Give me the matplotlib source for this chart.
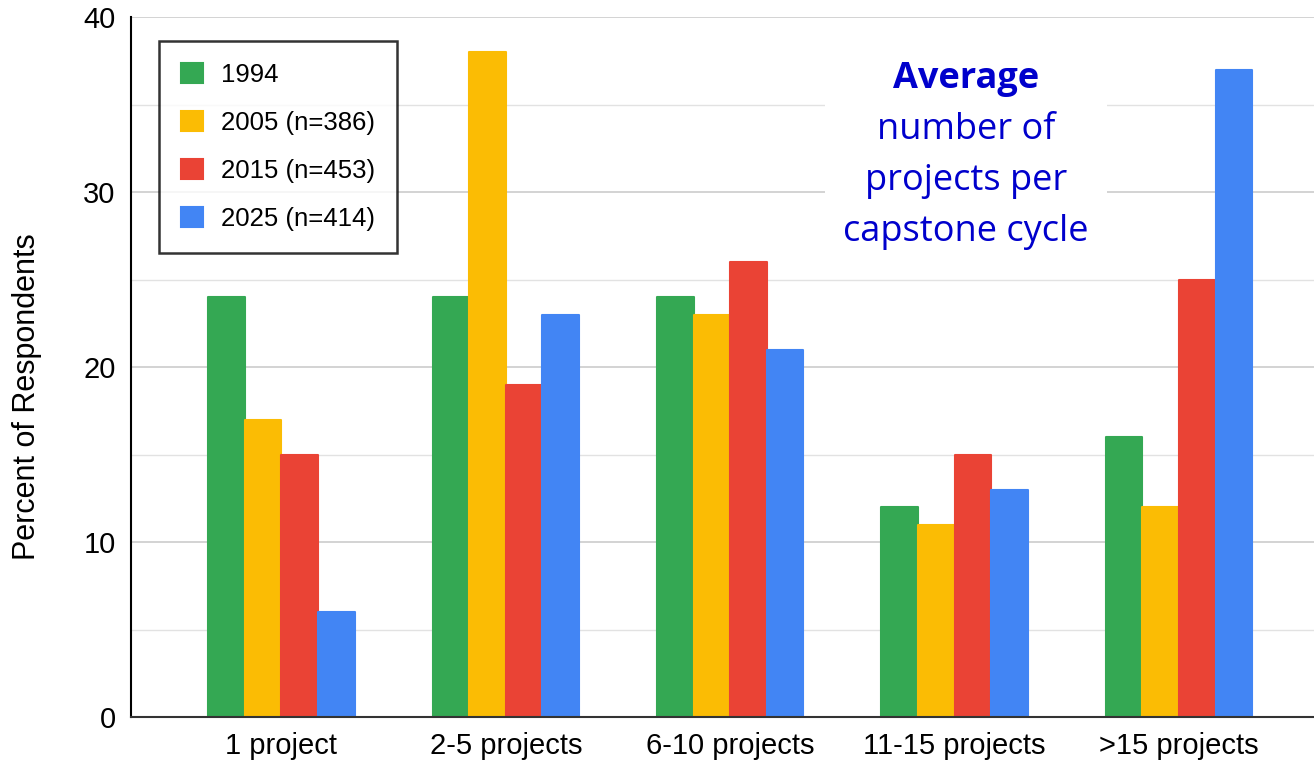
import matplotlib.pyplot as plt
import numpy as np

categories = ["1 project", "2-5 projects", "6-10 projects", "11-15 projects", ">15 projects"]
series_names = ["1994", "2005 (n=386)", "2015 (n=453)", "2025 (n=414)"]
v1994 = [24, 24, 24, 12, 16]
v2005 = [17, 38, 23, 11, 12]
v2015 = [15, 19, 26, 15, 25]
v2025 = [6, 23, 21, 13, 37]
colors = ["#34A853", "#FBBC04", "#EA4335", "#4285F4"]

plt.rcParams['font.family'] = ['Liberation Sans', 'DejaVu Sans']

fig = plt.figure(figsize=(13.14, 7.64), dpi=100)
ax = fig.add_axes([0.0997, 0.0615, 0.9, 0.9162])

x = np.arange(len(categories))
w = 0.163
for i, (vals, name) in enumerate(zip([v1994, v2005, v2015, v2025], series_names)):
    ax.bar(x + (i - 1.5) * w, vals, w, color=colors[i], label=name, zorder=3,
           edgecolor=colors[i], linewidth=1.5, joinstyle='round')

ax.set_xlim(-0.67, 4.6)
ax.set_ylim(0, 40)
ax.set_yticks([0, 10, 20, 30, 40])
ax.set_yticks([5, 15, 25, 35], minor=True)
ax.tick_params(axis='y', which='both', length=0, labelsize=21, pad=11)
ax.tick_params(axis='x', length=0, labelsize=21, pad=11)
ax.set_xticks(x)
ax.set_xticklabels(categories)
ax.grid(axis='y', which='major', color='#cccccc', lw=1.2, zorder=0)
ax.grid(axis='y', which='minor', color='#e2e2e2', lw=1.0, zorder=0)
for s in ['top', 'right']:
    ax.spines[s].set_visible(False)
ax.spines['left'].set_color('black')
ax.spines['left'].set_linewidth(1.5)
ax.spines['bottom'].set_color('#333333')
ax.spines['bottom'].set_linewidth(1.5)
ax.spines['bottom'].set_zorder(4)
ax.set_ylabel("Percent of Respondents", fontsize=22)
ax.yaxis.set_label_coords(-0.075, 0.457)

leg = ax.legend(loc='upper left', bbox_to_anchor=(0.024, 0.966), fontsize=18.5,
                frameon=True, fancybox=False, edgecolor='black', borderpad=0.85,
                labelspacing=0.93, handlelength=0.85, handleheight=0.85,
                handletextpad=0.7, borderaxespad=0)
leg.get_frame().set_linewidth(1.8)
leg.set_zorder(5)

ax.text(0.706, 0.766, "number of\nprojects per\ncapstone cycle", transform=ax.transAxes,
        ha='center', va='center', fontsize=26, color='#0000CC', family='Open Sans',
        linespacing=1.55, zorder=6,
        bbox=dict(boxstyle='square,pad=0.5', fc='white', ec='none'))
ax.text(0.706, 0.912, "Average", transform=ax.transAxes, ha='center', va='center',
        fontsize=26, fontweight='bold', color='#0000CC', family='Open Sans', zorder=7)

fig.savefig("out.png", dpi=100)
